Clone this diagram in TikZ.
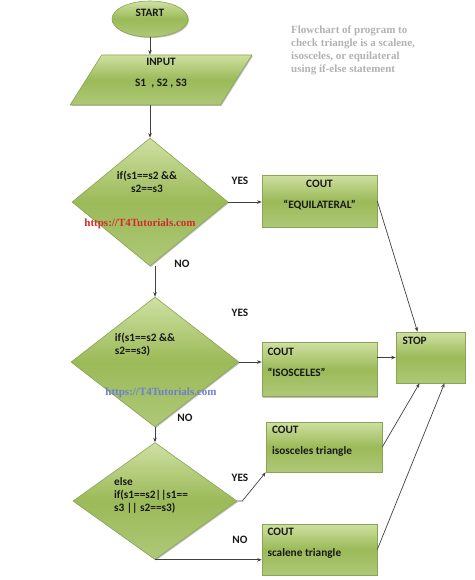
\documentclass[tikz,border=0pt]{standalone}
\usepackage{fontspec}
\setmainfont{Carlito}
\newfontfamily\serifmark{Liberation Serif}
\usetikzlibrary{shapes.geometric,arrows.meta,positioning,shadows}

\definecolor{gtop}{HTML}{CFE0A2}
\definecolor{gmid}{HTML}{9BBA58}
\definecolor{gbot}{HTML}{AFC878}
\definecolor{gline}{HTML}{8AA552}
\definecolor{markred}{HTML}{D42A2A}
\definecolor{markblue}{HTML}{4A5FC0}

% two lines of a box: first line near the top
\newcommand{\coutlines}[3][\raggedright]{\parbox[c][46pt][t]{104pt}{#1\rule{0pt}{9pt}#2\\[8pt]#3}}

\begin{document}
\begin{tikzpicture}[x=1pt, y=-1pt,
  every node/.style={font=\fontsize{11.3}{13}\selectfont\bfseries, text=black!90},
  green/.style={draw=gline, line width=0.6pt, top color=gtop, bottom color=gbot, middle color=gmid,
    drop shadow={shadow xshift=1pt, shadow yshift=-1pt, fill=black!50, opacity=0.5}},
  coutbox/.style={green, rectangle, inner sep=0pt, minimum width=115pt, minimum height=52pt},
  decision/.style={green, diamond, inner sep=0pt},
  condtext/.style={align=left, inner sep=0pt},
  watermark/.style={font=\serifmark\fontsize{11}{13}\selectfont\bfseries, inner sep=0pt},
  arrow/.style={-{Stealth[length=4.5pt,width=3.5pt]}, draw=black!75, line width=0.7pt}
]
  \useasboundingbox (0,0) rectangle (474,580);

  \node[green, ellipse, inner sep=2pt, minimum width=76pt, minimum height=36pt, text depth=12pt] (start) at (150,19) {START};
  \node[green, trapezium, trapezium left angle=59, trapezium right angle=121, trapezium stretches=true,
    inner sep=0pt, minimum width=182pt, minimum height=50pt] (input) at (161,80) {\coutlines[\centering]{INPUT}{S1~ , S2 , S3}};

  \node[decision, minimum width=156pt, minimum height=128pt] (d1) at (150,202) {};
  \node[condtext, align=center] (d1text) at ([xshift=-3pt, yshift=20pt]d1.center) {if(s1==s2 \&\&\\s2==s3};
  \node[decision, minimum width=168pt, minimum height=130pt] (d2) at (155,362) {};
  \node[condtext] (d2text) at ([xshift=-10pt, yshift=17pt]d2.center) {if(s1==s2 \&\&\\s2==s3)};
  \node[decision, minimum width=164pt, minimum height=117pt] (d3) at (155,501) {};
  \node[condtext] (d3text) at ([xshift=-4pt, yshift=6pt]d3.center) {else\\if(s1==s2||s1==\\s3 || s2==s3)};

  \node[coutbox] (equi) at (319.5,201) {\coutlines[\centering]{COUT}{“EQUILATERAL”}};
  \node[coutbox, minimum height=54pt] (isos) at (319.5,369.5) {\coutlines{COUT}{“ISOSCELES”}};
  \node[coutbox, minimum width=116pt, minimum height=50pt] (isotri) at (324,447) {\coutlines{COUT}{isosceles triangle}};
  \node[coutbox, minimum height=51pt] (scal) at (319.5,549.5) {\coutlines{COUT}{scalene triangle}};
  \node[green, rectangle, inner sep=0pt, minimum width=69pt, minimum height=51pt] (stop) at (430.5,357.5) {\parbox[c][45pt][t]{56pt}{\rule{0pt}{9pt}STOP}};

  % yes / no labels
  \node (yes1) at (240,181) {YES};
  \node (no1) at (182,264) {NO};
  \node (yes2) at (240,313) {YES};
  \node (no2) at (185,418) {NO};
  \node (yes3) at (240,478) {YES};
  \node (no3) at (240,540) {NO};

  % watermarks and caption
  \node[watermark, text=markred] (markone) at (140,224) {https://T4Tutorials.com};
  \node[watermark, text=markblue!80] (marktwo) at (161,393) {https://T4Tutorials.com};
  \node[watermark, text=black!30, align=left, anchor=north west] (caption) at (291,26)
    {Flowchart of program to\\check triangle is a scalene,\\isosceles, or equilateral\\using if-else statement};

  \draw[arrow] (start) -- (start |- input.north);
  \draw[arrow] (input.south -| d1.north) -- (d1.north);
  \draw[arrow] (d1.east) -- (d1.east -| equi.west);
  \draw[arrow] (d1.south -| d2.north) -- (d2.north);
  \draw[arrow] (d2.east) -- (d2.east -| isos.west);
  \draw[arrow] (d2.south) -- (d3.north);
  \draw[arrow] (d3.east) -- ++(5,0) -- (isotri.south west);
  \draw[arrow] (d3.south) -- (d3.south -| scal.west);
  \draw[arrow] (equi.east) -- ([xshift=-13pt]stop.north);
  \draw[arrow] (isos.east |- stop.west) -- (stop.west);
  \draw[arrow] (isotri.east) -- ([xshift=-11pt]stop.south);
  \draw[arrow] (scal.east) -- ([xshift=14pt]stop.south);
\end{tikzpicture}
\end{document}
